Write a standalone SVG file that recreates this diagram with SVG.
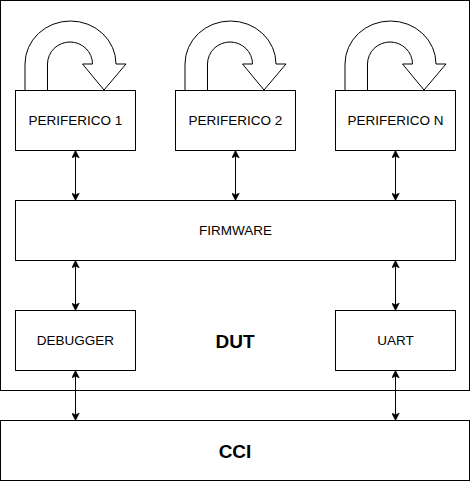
<svg xmlns="http://www.w3.org/2000/svg" width="471" height="482" viewBox="0 0 471 482">
<style>
.box{fill:#fff;stroke:#000;stroke-width:1}
.t{font-family:"Liberation Sans",Arial,sans-serif;font-size:13.5px;fill:#000;text-anchor:middle;dominant-baseline:central}
.b{font-family:"Liberation Sans",Arial,sans-serif;font-weight:bold;fill:#000;text-anchor:middle;dominant-baseline:central}
.c{stroke:#000;stroke-width:1;fill:none;marker-start:url(#ah);marker-end:url(#ah)}
.u{fill:#fff;stroke:#000;stroke-width:1;stroke-linejoin:miter}
</style>
<defs>
<marker id="ah" viewBox="0 0 10 10" refX="9" refY="5" markerWidth="8" markerHeight="8" markerUnits="userSpaceOnUse" orient="auto-start-reverse">
<path d="M0,0 L10,5 L0,10 L2.5,5 Z" fill="#000" stroke="#000" stroke-width="0.5"/>
</marker>
<path id="uturn" d="M25,90 L25,64 A45.5,43 0 0 1 116,64 L126,64 L104,90 L82.5,64 L92.5,64 A22.5,22 0 0 0 47.5,64 L47.5,90"/>
</defs>
<g id="dut">
<rect class="box" x="0.5" y="0.5" width="469" height="390"/>
<text class="b" x="235" y="341" font-size="19">DUT</text>
</g>
<g id="cci">
<rect class="box" x="0.5" y="420.5" width="469" height="60"/>
<text class="b" x="235" y="451" font-size="19">CCI</text>
</g>
<g id="periferico1">
<use href="#uturn" class="u"/>
<rect class="box" x="15.5" y="90.5" width="120" height="60"/>
<text class="t" x="75.5" y="120.5">PERIFERICO 1</text>
</g>
<g id="periferico2">
<use href="#uturn" class="u" transform="translate(160,0)"/>
<rect class="box" x="175.5" y="90.5" width="120" height="60"/>
<text class="t" x="235.5" y="120.5">PERIFERICO 2</text>
</g>
<g id="perifericoN">
<use href="#uturn" class="u" transform="translate(320,0)"/>
<rect class="box" x="335.5" y="90.5" width="120" height="60"/>
<text class="t" x="395.5" y="120.5">PERIFERICO N</text>
</g>
<g id="firmware">
<rect class="box" x="15.5" y="200.5" width="440" height="60"/>
<text class="t" x="235.5" y="230.5">FIRMWARE</text>
</g>
<g id="debugger">
<rect class="box" x="15.5" y="310.5" width="120" height="60"/>
<text class="t" x="75.5" y="340.5">DEBUGGER</text>
</g>
<g id="uart">
<rect class="box" x="335.5" y="310.5" width="120" height="60"/>
<text class="t" x="395.5" y="340.5">UART</text>
</g>
<g id="connectors">
<line class="c" x1="75.5" y1="151" x2="75.5" y2="200"/>
<line class="c" x1="235.5" y1="151" x2="235.5" y2="200"/>
<line class="c" x1="395.5" y1="151" x2="395.5" y2="200"/>
<line class="c" x1="75.5" y1="261" x2="75.5" y2="310"/>
<line class="c" x1="395.5" y1="261" x2="395.5" y2="310"/>
<line class="c" x1="75.5" y1="371" x2="75.5" y2="420"/>
<line class="c" x1="395.5" y1="371" x2="395.5" y2="420"/>
</g>
</svg>
